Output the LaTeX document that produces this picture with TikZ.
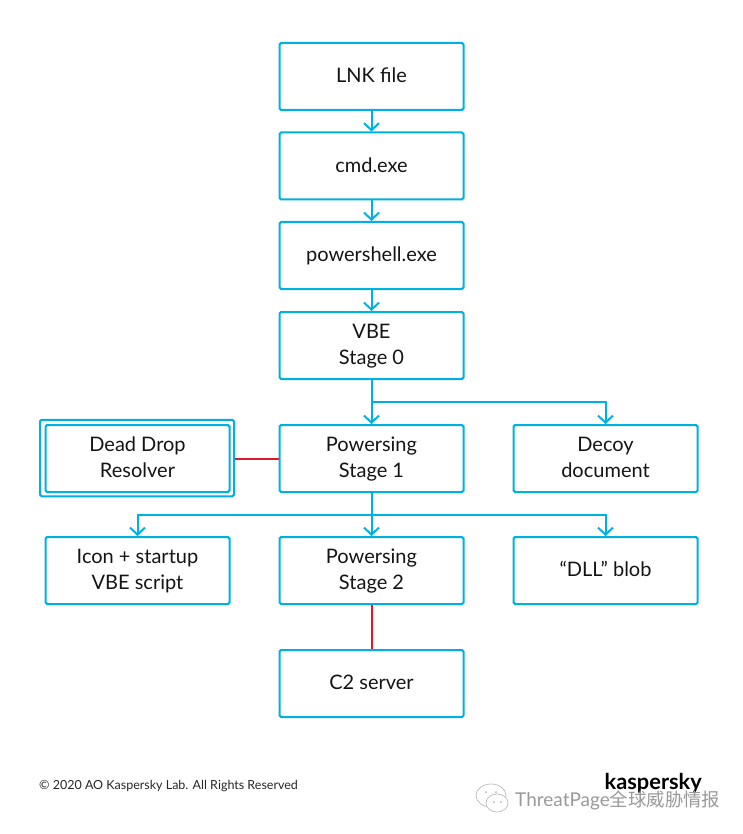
\documentclass[tikz,border=0pt]{standalone}
\usepackage{fontspec}
\setmainfont{Lato}
\newfontfamily\cjk{Noto Sans CJK SC}
\usetikzlibrary{arrows.meta,calc}
\definecolor{kblue}{HTML}{00B0E0}
\definecolor{kred}{HTML}{E0182D}
\newcommand{\st}{\rule[-5.65pt]{0pt}{23.5pt}}
\tikzset{
 x=1pt,y=-1pt,
 box/.style={draw=kblue,line width=2pt,rounded corners=1.6pt,minimum width=184pt,minimum height=67pt,align=center,font=\fontsize{20}{25.5}\selectfont,text=black!92,inner sep=0pt},
 flow/.style={draw=kblue,line width=2pt,-{Straight Barb[length=7pt,width=15pt,line width=2pt]}},
 redl/.style={draw=kred,line width=2pt},
 wmtext/.style={text=black!40,inner sep=0pt,anchor=west},
}
\begin{document}
\begin{tikzpicture}
\useasboundingbox (0,0) rectangle (742,834);
\node[box] (lnk) at (371.5,76.5) {\st LNK file};
\node[box] (cmd) at (371.5,166) {\st cmd.exe};
\node[box] (ps) at (371.5,255.5) {\st powershell.exe};
\node[box] (vbe) at (371.5,345.5) {\st VBE\\\st Stage 0};
\node[box] (st1) at (371.5,458.5) {\st Powersing\\\st Stage 1};
\node[box] (dec) at (605.5,458.5) {\st Decoy\\\st document};
\node[box] (ddr) at (137.5,458.5) {\st Dead Drop\\\st Resolver};
\node[draw=kblue,line width=2pt,rounded corners=1.6pt,minimum width=194pt,minimum height=76.5pt,inner sep=0pt] (ddrout) at (137,458) {};
\node[box] (icon) at (137.5,570.5) {\st Icon + startup\\\st VBE script};
\node[box] (st2) at (371.5,570.5) {\st Powersing\\\st Stage 2};
\node[box] (dll) at (605.5,570.5) {\st “DLL” blob};
\node[box] (c2) at (371.5,683.5) {\st C2 server};
\draw[flow] (lnk) -- (cmd);
\draw[flow] (cmd) -- (ps);
\draw[flow] (ps) -- (vbe);
\draw[flow] (vbe) -- (st1);
\coordinate (b1) at (371.5,402);
\coordinate (b2) at (371.5,514.5);
\draw[flow] (b1) -| (dec.north);
\draw[flow] (st1) -- (st2);
\draw[flow] (b2) -| (icon.north);
\draw[flow] (b2) -| (dll.north);
\draw[redl] (ddrout.east |- ddr) -- (st1.west);
\draw[redl] (st2) -- (c2);
\node[font=\fontsize{12.5}{14}\selectfont,text=black!85,anchor=west,inner sep=0pt] (copy) at (39,786.5) {© 2020 AO Kaspersky Lab. All Rights Reserved};
\node[font=\fontsize{21.8}{22}\bfseries\selectfont,anchor=east,inner sep=0pt] (logo) at (702,783) {kaspersky};
\node[wmtext,font=\fontsize{19}{20}\selectfont] (wm) at (515,800) {ThreatPage{\fontsize{18.4}{20}\selectfont\cjk 全球威胁情报}};
\draw[black!30,line width=.6pt] (491,795.5) ellipse (15 and 11.5);
\draw[black!30,line width=.6pt,fill=white] (497,803) ellipse (11 and 9);
\fill[black!30] (486,792) circle (1) (496,792) circle (1) (494,802) circle (1) (501,802) circle (1);
\end{tikzpicture}
\end{document}
